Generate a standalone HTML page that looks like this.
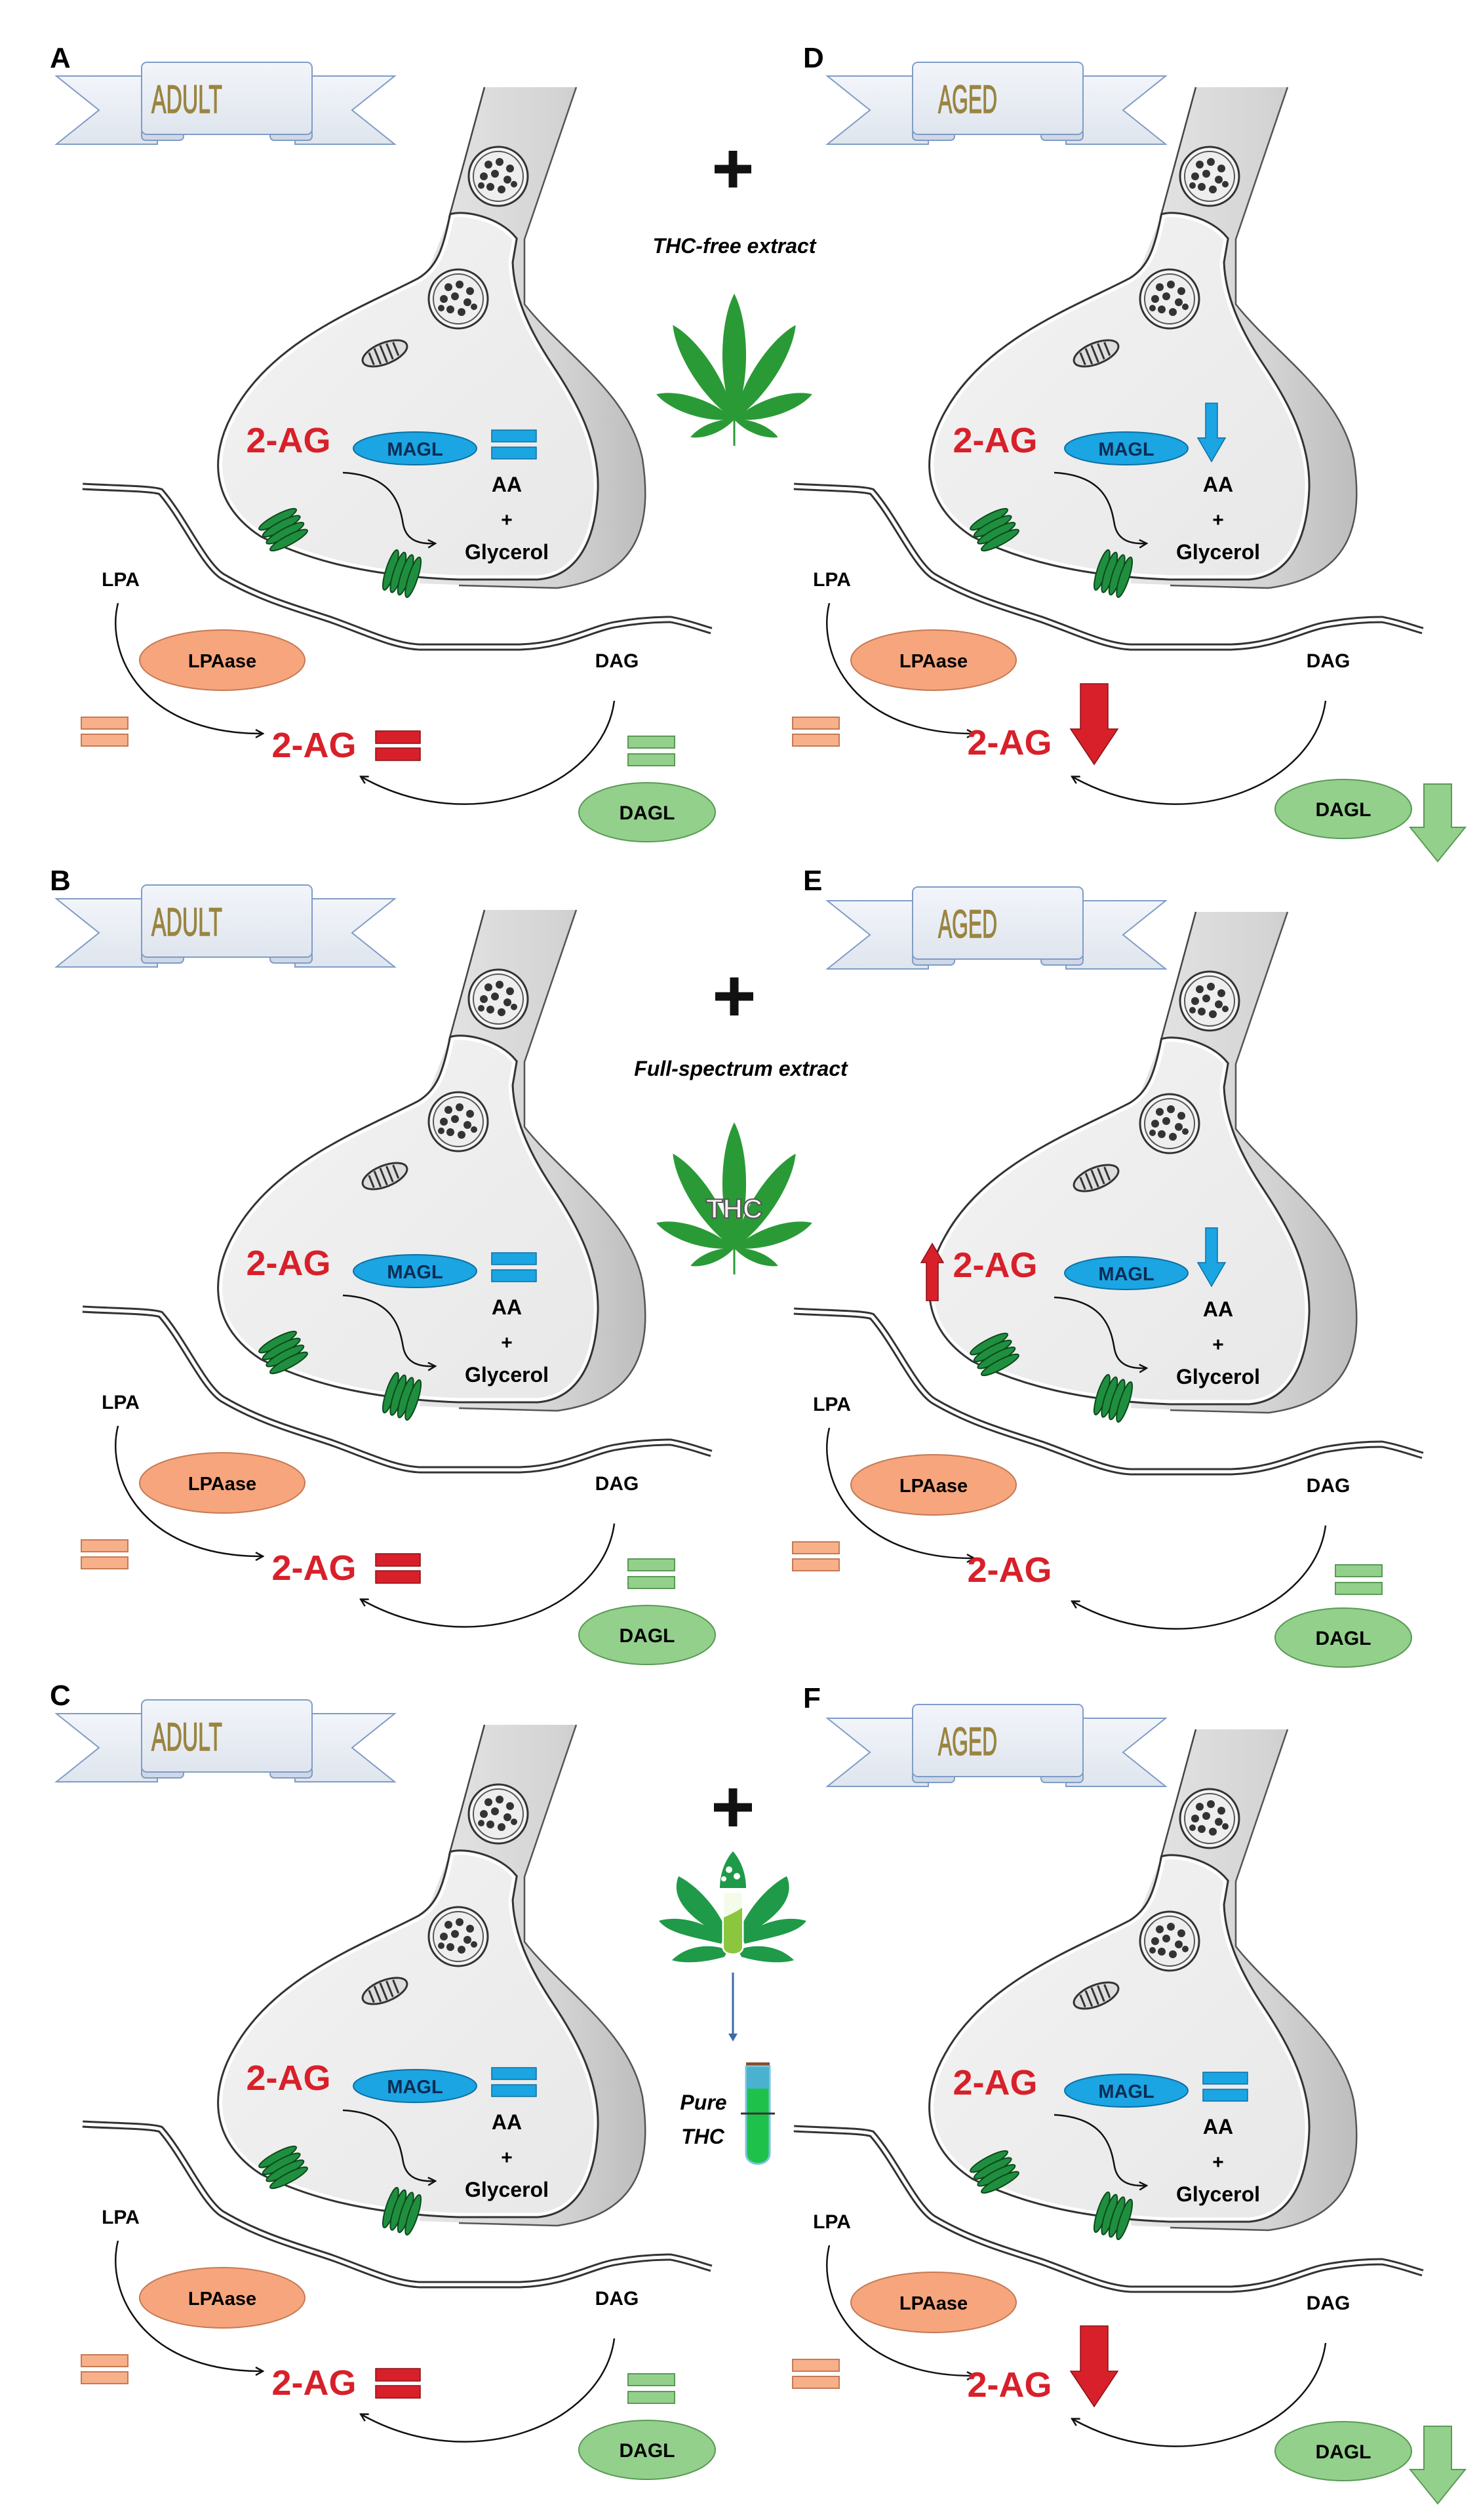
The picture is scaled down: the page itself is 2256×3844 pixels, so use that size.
<!DOCTYPE html>
<html><head><meta charset="utf-8">
<style>
html,body{margin:0;padding:0;background:#fff;}
svg{display:block;}
text{font-family:"Liberation Sans",sans-serif;}
</style></head><body>
<svg width="2256" height="3844" viewBox="0 0 2256 3844" xmlns="http://www.w3.org/2000/svg">
<defs>
<linearGradient id="band" x1="0" y1="0" x2="1" y2="0">
<stop offset="0" stop-color="#e6e6e6"/><stop offset="0.6" stop-color="#d4d4d4"/><stop offset="1" stop-color="#bdbdbd"/>
</linearGradient>
<linearGradient id="term" x1="0" y1="0" x2="1" y2="1">
<stop offset="0" stop-color="#f3f3f3"/><stop offset="1" stop-color="#e8e8e8"/>
</linearGradient>
<linearGradient id="ban" x1="0" y1="0" x2="0" y2="1">
<stop offset="0" stop-color="#f2f5fa"/><stop offset="1" stop-color="#dfe5ee"/>
</linearGradient>
<marker id="ah" markerWidth="14" markerHeight="14" refX="11" refY="7" orient="auto" markerUnits="userSpaceOnUse">
<path d="M1,1 L12,7 L1,13" fill="none" stroke="#111" stroke-width="2.5"/>
</marker>
<g id="ves">
<circle r="45" fill="#f4f4f4" stroke="#333" stroke-width="3"/>
<circle r="38" fill="#eeeeee" stroke="#555" stroke-width="2"/>
<circle cx="-15" cy="-18" r="6" fill="#333"/><circle cx="2" cy="-22" r="6" fill="#333"/><circle cx="18" cy="-12" r="6" fill="#333"/>
<circle cx="-22" cy="0" r="6" fill="#333"/><circle cx="-5" cy="-4" r="6" fill="#333"/><circle cx="14" cy="5" r="6" fill="#333"/>
<circle cx="-12" cy="16" r="6" fill="#333"/><circle cx="5" cy="20" r="6" fill="#333"/><circle cx="24" cy="12" r="5" fill="#333"/>
<circle cx="-26" cy="14" r="5" fill="#333"/>
</g>
<g id="rec">
<ellipse cx="-18" cy="0" rx="7" ry="32" fill="#1f8f3f" stroke="#0b4a1c" stroke-width="2"/>
<ellipse cx="-6" cy="0" rx="7" ry="32" fill="#1f8f3f" stroke="#0b4a1c" stroke-width="2"/>
<ellipse cx="6" cy="0" rx="7" ry="32" fill="#1f8f3f" stroke="#0b4a1c" stroke-width="2"/>
<ellipse cx="18" cy="0" rx="7" ry="32" fill="#1f8f3f" stroke="#0b4a1c" stroke-width="2"/>
</g>
<g id="syn">
<path d="M739,133 L879,133 L800,365 L800,464 C860,540 960,600 980,700 C995,800 975,880 850,897 L640,890 L649,423 L685,332 Z" fill="url(#band)"/>
<path d="M739,133 L685,332" stroke="#444" stroke-width="2.5" fill="none"/>
<path d="M879,133 L800,365 L800,464 C860,540 960,600 980,700 C995,800 975,880 850,897 L700,893" stroke="#555" stroke-width="2.5" fill="none"/>
<path d="M690,330 C680,380 670,410 640,428 C560,470 420,520 360,630 C320,700 330,770 400,815 C470,850 560,875 700,880 L820,880 C880,875 905,820 908,746 C910,680 880,620 840,560 C800,500 780,450 778,400 L784,365 C760,335 710,325 690,330 Z" fill="url(#term)" stroke="#333" stroke-width="11"/>
<path d="M690,330 C680,380 670,410 640,428 C560,470 420,520 360,630 C320,700 330,770 400,815 C470,850 560,875 700,880 L820,880 C880,875 905,820 908,746 C910,680 880,620 840,560 C800,500 780,450 778,400 L784,365 C760,335 710,325 690,330 Z" fill="url(#term)" stroke="#fff" stroke-width="5"/>
<use href="#ves" x="760" y="269"/>
<use href="#ves" x="699" y="456"/>
<g transform="translate(587,539) rotate(-22)">
<ellipse rx="36" ry="16" fill="#ddd" stroke="#333" stroke-width="3"/>
<path d="M-22,-10 L-22,10 M-12,-13 L-12,13 M-2,-14 L-2,14 M8,-13 L8,13 M18,-11 L18,11" stroke="#333" stroke-width="3"/>
</g>
<path d="M126,742 C180,745 230,745 245,750 C280,790 310,860 339,879 C400,915 460,930 504,945 C560,965 600,985 640,987 L793,987 C860,985 900,960 937,953 C980,945 1010,945 1023,945 C1050,950 1070,958 1085,962" fill="none" stroke="#333" stroke-width="11"/>
<path d="M126,742 C180,745 230,745 245,750 C280,790 310,860 339,879 C400,915 460,930 504,945 C560,965 600,985 640,987 L793,987 C860,985 900,960 937,953 C980,945 1010,945 1023,945 C1050,950 1070,958 1085,962" fill="none" stroke="#fff" stroke-width="5"/>
<use href="#rec" transform="translate(432,808) rotate(62)"/>
<use href="#rec" transform="translate(613,875) rotate(18)"/>
<path d="M523,721 C600,725 610,770 615,800 C620,825 640,830 663,829" fill="none" stroke="#111" stroke-width="2.5" marker-end="url(#ah)"/>
<path d="M180,920 C160,1000 220,1120 400,1119" fill="none" stroke="#111" stroke-width="2.5" marker-end="url(#ah)"/>
<path d="M937,1069 C920,1200 720,1280 551,1185" fill="none" stroke="#111" stroke-width="2.5" marker-end="url(#ah)"/>
<ellipse cx="633" cy="684" rx="94" ry="25" fill="#1ba5e2" stroke="#0d6fa3" stroke-width="2"/>
<ellipse cx="339" cy="1007" rx="126" ry="46" fill="#f6a57d" stroke="#c57a55" stroke-width="2"/>
<rect x="124" y="1094" width="71" height="18" fill="#f7b08a" stroke="#c57a55" stroke-width="2"/>
<rect x="124" y="1120" width="71" height="18" fill="#f7b08a" stroke="#c57a55" stroke-width="2"/>
</g>
<g id="banner">
<polygon points="86,116 240,116 240,220 86,220 151,168" fill="url(#ban)" stroke="#7f9cc7" stroke-width="2"/>
<polygon points="450,116 602,116 537,168 602,220 450,220" fill="url(#ban)" stroke="#7f9cc7" stroke-width="2"/>
<rect x="216" y="196" width="64" height="18" rx="6" fill="#cfd8e6" stroke="#7f9cc7" stroke-width="2"/>
<rect x="412" y="196" width="64" height="18" rx="6" fill="#cfd8e6" stroke="#7f9cc7" stroke-width="2"/>
<rect x="216" y="95" width="260" height="110" rx="8" fill="url(#ban)" stroke="#7f9cc7" stroke-width="2"/>
</g>
<g id="leaflets">
<path d="M0,0 C26,-60 22,-150 0,-192 C-22,-150 -26,-60 0,0 Z" fill="#2a9a36"/>
<path d="M0,0 C24,-55 20,-135 0,-172 C-20,-135 -24,-55 0,0 Z" fill="#2a9a36" transform="rotate(33)"/>
<path d="M0,0 C24,-55 20,-135 0,-172 C-20,-135 -24,-55 0,0 Z" fill="#2a9a36" transform="rotate(-33)"/>
<path d="M0,0 C20,-45 16,-100 0,-125 C-16,-100 -20,-45 0,0 Z" fill="#2a9a36" transform="rotate(72)"/>
<path d="M0,0 C20,-45 16,-100 0,-125 C-16,-100 -20,-45 0,0 Z" fill="#2a9a36" transform="rotate(-72)"/>
<path d="M0,0 C12,-25 10,-55 0,-72 C-10,-55 -12,-25 0,0 Z" fill="#2a9a36" transform="rotate(112)"/>
<path d="M0,0 C12,-25 10,-55 0,-72 C-10,-55 -12,-25 0,0 Z" fill="#2a9a36" transform="rotate(-112)"/>
<path d="M0,0 L0,40" stroke="#2a9a36" stroke-width="3"/>
</g>
</defs>

<!-- A -->
<g transform="translate(0,0)">
<use href="#syn"/>
<use href="#banner"/>
<text x="285" y="172" font-family="'Liberation Sans Narrow','DejaVu Sans Condensed',sans-serif" font-size="60" fill="#9a8540" stroke="#9a8540" stroke-width="1.5" text-anchor="middle" textLength="108" lengthAdjust="spacingAndGlyphs">ADULT</text>
<text x="76" y="103" font-size="44" font-weight="bold">A</text>
<rect x="750" y="656" width="68" height="18" fill="#1ba5e2" stroke="#0d6fa3" stroke-width="1.5"/><rect x="750" y="682" width="68" height="18" fill="#1ba5e2" stroke="#0d6fa3" stroke-width="1.5"/>
<rect x="573" y="1115" width="68" height="19" fill="#d8202a" stroke="#8a1015" stroke-width="1.5"/><rect x="573" y="1141" width="68" height="19" fill="#d8202a" stroke="#8a1015" stroke-width="1.5"/>
<rect x="958" y="1123" width="71" height="18" fill="#93d08c" stroke="#5a9a55" stroke-width="2"/><rect x="958" y="1150" width="71" height="18" fill="#93d08c" stroke="#5a9a55" stroke-width="2"/>
<ellipse cx="987" cy="1239" rx="104" ry="45" fill="#93d08c" stroke="#5a9a55" stroke-width="2"/>
<text x="987" y="1250" font-size="30" font-weight="bold" text-anchor="middle">DAGL</text>
<text x="440" y="690" font-size="54" font-weight="bold" fill="#d8202a" text-anchor="middle">2-AG</text>
<text x="633" y="695" font-size="29" font-weight="bold" fill="#0b2d55" text-anchor="middle">MAGL</text>
<text x="773" y="750" font-size="32" font-weight="bold" text-anchor="middle">AA</text>
<text x="773" y="803" font-size="30" font-weight="bold" text-anchor="middle">+</text>
<text x="773" y="853" font-size="32" font-weight="bold" text-anchor="middle">Glycerol</text>
<text x="184" y="894" font-size="30" font-weight="bold" text-anchor="middle">LPA</text>
<text x="339" y="1018" font-size="29" font-weight="bold" text-anchor="middle">LPAase</text>
<text x="941" y="1018" font-size="30" font-weight="bold" text-anchor="middle">DAG</text>
<text x="479" y="1155" font-size="54" font-weight="bold" fill="#d8202a" text-anchor="middle">2-AG</text>
</g>
<!-- B -->
<g transform="translate(0,1255)">
<use href="#syn"/>
<use href="#banner"/>
<text x="285" y="172" font-family="'Liberation Sans Narrow','DejaVu Sans Condensed',sans-serif" font-size="60" fill="#9a8540" stroke="#9a8540" stroke-width="1.5" text-anchor="middle" textLength="108" lengthAdjust="spacingAndGlyphs">ADULT</text>
<text x="76" y="103" font-size="44" font-weight="bold">B</text>
<rect x="750" y="656" width="68" height="18" fill="#1ba5e2" stroke="#0d6fa3" stroke-width="1.5"/><rect x="750" y="682" width="68" height="18" fill="#1ba5e2" stroke="#0d6fa3" stroke-width="1.5"/>
<rect x="573" y="1115" width="68" height="19" fill="#d8202a" stroke="#8a1015" stroke-width="1.5"/><rect x="573" y="1141" width="68" height="19" fill="#d8202a" stroke="#8a1015" stroke-width="1.5"/>
<rect x="958" y="1123" width="71" height="18" fill="#93d08c" stroke="#5a9a55" stroke-width="2"/><rect x="958" y="1150" width="71" height="18" fill="#93d08c" stroke="#5a9a55" stroke-width="2"/>
<ellipse cx="987" cy="1239" rx="104" ry="45" fill="#93d08c" stroke="#5a9a55" stroke-width="2"/>
<text x="987" y="1250" font-size="30" font-weight="bold" text-anchor="middle">DAGL</text>
<text x="440" y="690" font-size="54" font-weight="bold" fill="#d8202a" text-anchor="middle">2-AG</text>
<text x="633" y="695" font-size="29" font-weight="bold" fill="#0b2d55" text-anchor="middle">MAGL</text>
<text x="773" y="750" font-size="32" font-weight="bold" text-anchor="middle">AA</text>
<text x="773" y="803" font-size="30" font-weight="bold" text-anchor="middle">+</text>
<text x="773" y="853" font-size="32" font-weight="bold" text-anchor="middle">Glycerol</text>
<text x="184" y="894" font-size="30" font-weight="bold" text-anchor="middle">LPA</text>
<text x="339" y="1018" font-size="29" font-weight="bold" text-anchor="middle">LPAase</text>
<text x="941" y="1018" font-size="30" font-weight="bold" text-anchor="middle">DAG</text>
<text x="479" y="1155" font-size="54" font-weight="bold" fill="#d8202a" text-anchor="middle">2-AG</text>
</g>
<!-- C -->
<g transform="translate(0,2498)">
<use href="#syn"/>
<use href="#banner"/>
<text x="285" y="172" font-family="'Liberation Sans Narrow','DejaVu Sans Condensed',sans-serif" font-size="60" fill="#9a8540" stroke="#9a8540" stroke-width="1.5" text-anchor="middle" textLength="108" lengthAdjust="spacingAndGlyphs">ADULT</text>
<text x="76" y="103" font-size="44" font-weight="bold">C</text>
<rect x="750" y="656" width="68" height="18" fill="#1ba5e2" stroke="#0d6fa3" stroke-width="1.5"/><rect x="750" y="682" width="68" height="18" fill="#1ba5e2" stroke="#0d6fa3" stroke-width="1.5"/>
<rect x="573" y="1115" width="68" height="19" fill="#d8202a" stroke="#8a1015" stroke-width="1.5"/><rect x="573" y="1141" width="68" height="19" fill="#d8202a" stroke="#8a1015" stroke-width="1.5"/>
<rect x="958" y="1123" width="71" height="18" fill="#93d08c" stroke="#5a9a55" stroke-width="2"/><rect x="958" y="1150" width="71" height="18" fill="#93d08c" stroke="#5a9a55" stroke-width="2"/>
<ellipse cx="987" cy="1239" rx="104" ry="45" fill="#93d08c" stroke="#5a9a55" stroke-width="2"/>
<text x="987" y="1250" font-size="30" font-weight="bold" text-anchor="middle">DAGL</text>
<text x="440" y="690" font-size="54" font-weight="bold" fill="#d8202a" text-anchor="middle">2-AG</text>
<text x="633" y="695" font-size="29" font-weight="bold" fill="#0b2d55" text-anchor="middle">MAGL</text>
<text x="773" y="750" font-size="32" font-weight="bold" text-anchor="middle">AA</text>
<text x="773" y="803" font-size="30" font-weight="bold" text-anchor="middle">+</text>
<text x="773" y="853" font-size="32" font-weight="bold" text-anchor="middle">Glycerol</text>
<text x="184" y="894" font-size="30" font-weight="bold" text-anchor="middle">LPA</text>
<text x="339" y="1018" font-size="29" font-weight="bold" text-anchor="middle">LPAase</text>
<text x="941" y="1018" font-size="30" font-weight="bold" text-anchor="middle">DAG</text>
<text x="479" y="1155" font-size="54" font-weight="bold" fill="#d8202a" text-anchor="middle">2-AG</text>
</g>

<!-- D -->
<g transform="translate(1085,0)">
<use href="#syn"/>
<g transform="translate(91,0)"><use href="#banner"/>
<text x="300" y="172" font-family="'Liberation Sans Narrow','DejaVu Sans Condensed',sans-serif" font-size="60" fill="#9a8540" stroke="#9a8540" stroke-width="1.5" text-anchor="middle" textLength="90" lengthAdjust="spacingAndGlyphs">AGED</text></g>
<text x="140" y="103" font-size="44" font-weight="bold">D</text>
<path d="M754,615 L772,615 L772,668 L784,668 L763,704 L742,668 L754,668 Z" fill="#1ba5e2" stroke="#0d6fa3" stroke-width="1.5"/>
<path d="M563,1043 L605,1043 L605,1112 L620,1112 L584,1166 L548,1112 L563,1112 Z" fill="#d8202a" stroke="#8a1015" stroke-width="1.5"/>
<path d="M1087,1196 L1129,1196 L1129,1262 L1150,1262 L1108,1314 L1066,1262 L1087,1262 Z" fill="#93d08c" stroke="#5a9a55" stroke-width="2"/>
<ellipse cx="964" cy="1234" rx="104" ry="45" fill="#93d08c" stroke="#5a9a55" stroke-width="2"/>
<text x="964" y="1245" font-size="30" font-weight="bold" text-anchor="middle">DAGL</text>
<text x="433" y="690" font-size="54" font-weight="bold" fill="#d8202a" text-anchor="middle">2-AG</text>
<text x="633" y="695" font-size="29" font-weight="bold" fill="#0b2d55" text-anchor="middle">MAGL</text>
<text x="773" y="750" font-size="32" font-weight="bold" text-anchor="middle">AA</text>
<text x="773" y="803" font-size="30" font-weight="bold" text-anchor="middle">+</text>
<text x="773" y="853" font-size="32" font-weight="bold" text-anchor="middle">Glycerol</text>
<text x="184" y="894" font-size="30" font-weight="bold" text-anchor="middle">LPA</text>
<text x="339" y="1018" font-size="29" font-weight="bold" text-anchor="middle">LPAase</text>
<text x="941" y="1018" font-size="30" font-weight="bold" text-anchor="middle">DAG</text>
<text x="455" y="1151" font-size="54" font-weight="bold" fill="#d8202a" text-anchor="middle">2-AG</text>
</g>
<!-- E -->
<g transform="translate(1085,1258)">
<use href="#syn"/>
<g transform="translate(91,0)"><use href="#banner"/>
<text x="300" y="172" font-family="'Liberation Sans Narrow','DejaVu Sans Condensed',sans-serif" font-size="60" fill="#9a8540" stroke="#9a8540" stroke-width="1.5" text-anchor="middle" textLength="90" lengthAdjust="spacingAndGlyphs">AGED</text></g>
<text x="140" y="100" font-size="44" font-weight="bold">E</text>
<path d="M754,615 L772,615 L772,668 L784,668 L763,704 L742,668 L754,668 Z" fill="#1ba5e2" stroke="#0d6fa3" stroke-width="1.5"/>
<path d="M328,726 L346,726 L346,668 L354,668 L337,639 L320,668 L328,668 Z" fill="#d8202a" stroke="#8a1015" stroke-width="1.5"/>
<rect x="952" y="1129" width="71" height="18" fill="#93d08c" stroke="#5a9a55" stroke-width="2"/><rect x="952" y="1156" width="71" height="18" fill="#93d08c" stroke="#5a9a55" stroke-width="2"/>
<ellipse cx="964" cy="1240" rx="104" ry="45" fill="#93d08c" stroke="#5a9a55" stroke-width="2"/>
<text x="964" y="1251" font-size="30" font-weight="bold" text-anchor="middle">DAGL</text>
<text x="433" y="690" font-size="54" font-weight="bold" fill="#d8202a" text-anchor="middle">2-AG</text>
<text x="633" y="695" font-size="29" font-weight="bold" fill="#0b2d55" text-anchor="middle">MAGL</text>
<text x="773" y="750" font-size="32" font-weight="bold" text-anchor="middle">AA</text>
<text x="773" y="803" font-size="30" font-weight="bold" text-anchor="middle">+</text>
<text x="773" y="853" font-size="32" font-weight="bold" text-anchor="middle">Glycerol</text>
<text x="184" y="894" font-size="30" font-weight="bold" text-anchor="middle">LPA</text>
<text x="339" y="1018" font-size="29" font-weight="bold" text-anchor="middle">LPAase</text>
<text x="941" y="1018" font-size="30" font-weight="bold" text-anchor="middle">DAG</text>
<text x="455" y="1155" font-size="54" font-weight="bold" fill="#d8202a" text-anchor="middle">2-AG</text>
</g>
<!-- F -->
<g transform="translate(1085,2505)">
<use href="#syn"/>
<g transform="translate(91,0)"><use href="#banner"/>
<text x="300" y="172" font-family="'Liberation Sans Narrow','DejaVu Sans Condensed',sans-serif" font-size="60" fill="#9a8540" stroke="#9a8540" stroke-width="1.5" text-anchor="middle" textLength="90" lengthAdjust="spacingAndGlyphs">AGED</text></g>
<text x="140" y="100" font-size="44" font-weight="bold">F</text>
<rect x="750" y="656" width="68" height="18" fill="#1ba5e2" stroke="#0d6fa3" stroke-width="1.5"/><rect x="750" y="682" width="68" height="18" fill="#1ba5e2" stroke="#0d6fa3" stroke-width="1.5"/>
<path d="M563,1043 L605,1043 L605,1112 L620,1112 L584,1166 L548,1112 L563,1112 Z" fill="#d8202a" stroke="#8a1015" stroke-width="1.5"/>
<path d="M1087,1196 L1129,1196 L1129,1262 L1150,1262 L1108,1314 L1066,1262 L1087,1262 Z" fill="#93d08c" stroke="#5a9a55" stroke-width="2"/>
<ellipse cx="964" cy="1234" rx="104" ry="45" fill="#93d08c" stroke="#5a9a55" stroke-width="2"/>
<text x="964" y="1245" font-size="30" font-weight="bold" text-anchor="middle">DAGL</text>
<text x="433" y="690" font-size="54" font-weight="bold" fill="#d8202a" text-anchor="middle">2-AG</text>
<text x="633" y="695" font-size="29" font-weight="bold" fill="#0b2d55" text-anchor="middle">MAGL</text>
<text x="773" y="750" font-size="32" font-weight="bold" text-anchor="middle">AA</text>
<text x="773" y="803" font-size="30" font-weight="bold" text-anchor="middle">+</text>
<text x="773" y="853" font-size="32" font-weight="bold" text-anchor="middle">Glycerol</text>
<text x="184" y="894" font-size="30" font-weight="bold" text-anchor="middle">LPA</text>
<text x="339" y="1018" font-size="29" font-weight="bold" text-anchor="middle">LPAase</text>
<text x="941" y="1018" font-size="30" font-weight="bold" text-anchor="middle">DAG</text>
<text x="455" y="1151" font-size="54" font-weight="bold" fill="#d8202a" text-anchor="middle">2-AG</text>
</g>

<!-- MIDDLE COLUMN -->
<path d="M1090,258 L1146,258 M1118,230 L1118,286" stroke="#111" stroke-width="13"/>
<text x="1120" y="386" font-size="32" font-weight="bold" font-style="italic" text-anchor="middle">THC-free extract</text>
<use href="#leaflets" x="1120" y="640"/>
<path d="M1091,1520 L1149,1520 M1120,1491 L1120,1549" stroke="#111" stroke-width="13"/>
<text x="1130" y="1641" font-size="32" font-weight="bold" font-style="italic" text-anchor="middle">Full-spectrum extract</text>
<use href="#leaflets" x="1120" y="1904"/>
<text x="1120" y="1858" font-size="42" font-weight="bold" fill="#f4f4f4" stroke="#555" stroke-width="2" text-anchor="middle">THC</text>
<path d="M1089,2757 L1147,2757 M1118,2728 L1118,2786" stroke="#111" stroke-width="13"/>
<g fill="#1e9a48">
<path d="M1103,2955 C1060,2930 1020,2900 1035,2862 C1070,2880 1100,2920 1110,2950 Z"/>
<path d="M1100,2965 C1060,2955 1020,2950 1005,2930 C1040,2920 1080,2935 1105,2955 Z"/>
<path d="M1105,2985 C1070,2995 1040,2995 1025,2990 C1050,2965 1090,2965 1110,2975 Z"/>
<path d="M1133,2955 C1176,2930 1216,2900 1200,2862 C1166,2880 1136,2920 1126,2950 Z"/>
<path d="M1136,2965 C1176,2955 1216,2950 1230,2930 C1196,2920 1156,2935 1131,2955 Z"/>
<path d="M1131,2985 C1166,2995 1196,2995 1211,2990 C1186,2965 1146,2965 1126,2975 Z"/>
<path d="M1098,2880 C1098,2855 1108,2835 1118,2824 C1128,2835 1138,2855 1138,2880 Z"/>
</g>
<circle cx="1112" cy="2852" r="5" fill="#fff"/><circle cx="1104" cy="2866" r="4" fill="#fff"/><circle cx="1124" cy="2862" r="5" fill="#fff"/>
<rect x="1098" y="2880" width="40" height="6" fill="#fff"/>
<path d="M1103,2886 L1133,2886 L1133,2970 C1133,2985 1103,2985 1103,2970 Z" fill="#f4fbe8" stroke="#fff" stroke-width="3"/>
<path d="M1104,2925 C1115,2920 1125,2915 1132,2910 L1132,2970 C1132,2983 1104,2983 1104,2970 Z" fill="#8cc63f"/>
<path d="M1118,3009 L1118,3110" stroke="#3a6aa8" stroke-width="3"/>
<path d="M1111,3102 L1125,3102 L1118,3114 Z" fill="#3a6aa8"/>
<rect x="1138" y="3146" width="36" height="6" fill="#8a4a2a"/>
<path d="M1138,3152 L1174,3152 L1174,3285 C1174,3306 1138,3306 1138,3285 Z" fill="#1ec24a" stroke="#7ac5e0" stroke-width="3"/>
<rect x="1139" y="3153" width="34" height="33" fill="#4ab2cf"/>
<path d="M1130,3224 L1182,3224" stroke="#333" stroke-width="3"/>
<text x="1073" y="3218" font-size="32" font-weight="bold" font-style="italic" text-anchor="middle">Pure</text>
<text x="1072" y="3270" font-size="32" font-weight="bold" font-style="italic" text-anchor="middle">THC</text>
</svg>
</body></html>
